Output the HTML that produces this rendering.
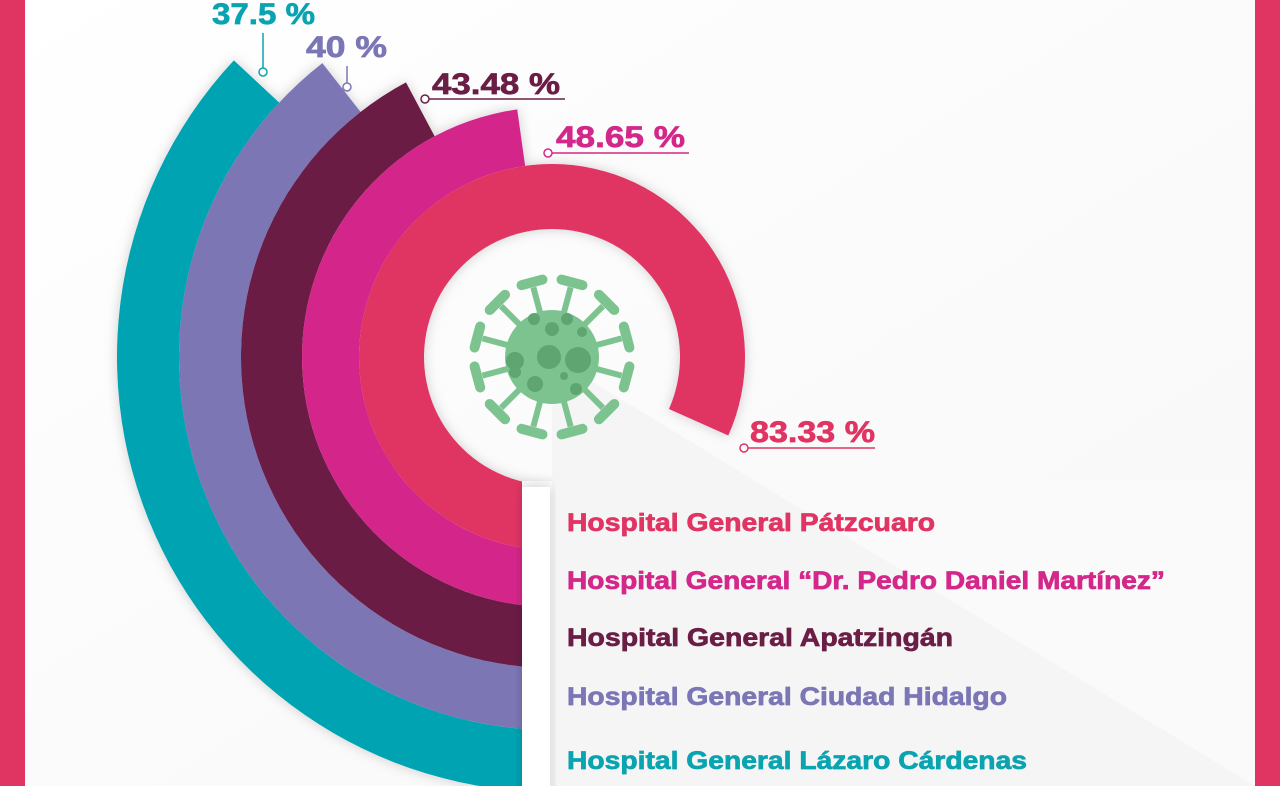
<!DOCTYPE html>
<html><head><meta charset="utf-8"><style>
html,body{margin:0;padding:0;background:#fff}
svg{display:block}
text{font-family:"Liberation Sans",sans-serif;font-weight:bold;stroke-width:0.7px}
</style></head><body>
<svg id="s" width="1280" height="786" viewBox="0 0 1280 786" xmlns="http://www.w3.org/2000/svg">
<defs>
<linearGradient id="bg" x1="0" y1="0" x2="1" y2="1">
<stop offset="0" stop-color="#ffffff"/><stop offset="1" stop-color="#f7f7f8"/></linearGradient>
<filter id="sh" x="-20%" y="-20%" width="140%" height="140%"><feDropShadow dx="0" dy="0" stdDeviation="6" flood-color="#000" flood-opacity="0.18"/></filter>
</defs>
<rect width="1280" height="786" fill="url(#bg)"/>
<g id="rings" filter="url(#sh)"></g>
<rect x="522" y="481" width="733" height="305" fill="#fafafa"/>
<polygon points="552,357 1255,786 552,786" fill="#f5f5f6"/>
<g id="tabs" filter="url(#sh)"></g>
<g id="virus"></g>
<rect x="0" y="0" width="25" height="786" fill="#e03463"/>
<rect x="1255" y="0" width="25" height="786" fill="#e03463"/>
<g font-size="30">
<text x="212" y="24" fill="#0aa3b0" stroke="#0aa3b0" textLength="103" lengthAdjust="spacingAndGlyphs">37.5 %</text>
<text x="306" y="57" fill="#7b76b5" stroke="#7b76b5" textLength="81" lengthAdjust="spacingAndGlyphs">40 %</text>
<text x="432" y="94" fill="#6b1e45" stroke="#6b1e45" textLength="128" lengthAdjust="spacingAndGlyphs">43.48 %</text>
<text x="556" y="147" fill="#d4278a" stroke="#d4278a" textLength="129" lengthAdjust="spacingAndGlyphs">48.65 %</text>
<text x="750" y="442" fill="#e03463" stroke="#e03463" textLength="125" lengthAdjust="spacingAndGlyphs">83.33 %</text>
</g>
<g fill="none" stroke-width="1.5">
<line x1="263" y1="33" x2="263" y2="68" stroke="#0aa3b0"/><circle cx="263" cy="72" r="4" stroke="#0aa3b0" fill="#fff"/>
<line x1="347" y1="66" x2="347" y2="83" stroke="#7b76b5"/><circle cx="347" cy="87" r="4" stroke="#7b76b5" fill="#fff"/>
<line x1="429" y1="99" x2="565" y2="99" stroke="#6b1e45"/><circle cx="425" cy="99" r="4" stroke="#6b1e45" fill="#fff"/>
<line x1="552" y1="153" x2="689" y2="153" stroke="#d4278a"/><circle cx="548" cy="153" r="4" stroke="#d4278a" fill="#fff"/>
<line x1="748" y1="448" x2="875" y2="448" stroke="#e03463"/><circle cx="744" cy="448" r="4" stroke="#e03463" fill="#fff"/>
</g>
<g font-size="25">
<text x="567" y="531" fill="#e03463" stroke="#e03463" stroke-width="0.4" textLength="368" lengthAdjust="spacingAndGlyphs">Hospital General Pátzcuaro</text>
<text x="567" y="589" fill="#d4278a" stroke="#d4278a" stroke-width="0.4" textLength="598" lengthAdjust="spacingAndGlyphs">Hospital General “Dr. Pedro Daniel Martínez”</text>
<text x="567" y="646" fill="#6b1e45" stroke="#6b1e45" stroke-width="0.4" textLength="386" lengthAdjust="spacingAndGlyphs">Hospital General Apatzingán</text>
<text x="567" y="705" fill="#7b76b5" stroke="#7b76b5" stroke-width="0.4" textLength="440" lengthAdjust="spacingAndGlyphs">Hospital General Ciudad Hidalgo</text>
<text x="567" y="769" fill="#0aa3b0" stroke="#0aa3b0" stroke-width="0.4" textLength="460" lengthAdjust="spacingAndGlyphs">Hospital General Lázaro Cárdenas</text>
</g>
</svg>
<script>
var NS="http://www.w3.org/2000/svg",cx=552,cy=357;
function P(r,t){t=t*Math.PI/180;return [cx+r*Math.sin(t),cy-r*Math.cos(t)];}
function arc(r0,r1,a0,a1,col,g){
 var p1=P(r1,a0),p2=P(r1,a1),p3=P(r0,a1),p4=P(r0,a0),lg=(a1-a0)>180?1:0;
 var d="M"+p1+" A"+r1+","+r1+" 0 "+lg+" 1 "+p2+" L"+p3+" A"+r0+","+r0+" 0 "+lg+" 0 "+p4+"Z";
 var e=document.createElementNS(NS,"path");e.setAttribute("d",d);e.setAttribute("fill",col);g.appendChild(e);}
var g=document.getElementById("rings");
var R=[[373,435,313,"#05a3b2"],[311,373,322,"#7b76b5"],[250,311,332,"#6b1e45"],[193,250,352,"#d4278a"],[128,193,474,"#e03463"]];
R.forEach(function(a){arc(a[0],a[1],170,a[2],a[3],g);});
var t=document.getElementById("tabs");
var tops=[487,548,606,668,730],bots=[548,606,668,730,800];
for(var i=0;i<5;i++){var r=document.createElementNS(NS,"rect");
 r.setAttribute("x",522);r.setAttribute("y",tops[i]);r.setAttribute("width",28);r.setAttribute("height",bots[i]-tops[i]);r.setAttribute("fill","#fff");t.appendChild(r);}
var v=document.getElementById("virus"),h='';
for(var k=0;k<12;k++){var a=k*30+15,q=P(72,a),q0=P(40,a),q1=P(78,a-8),q2=P(78,a+8);
 h+='<line x1="'+q0[0]+'" y1="'+q0[1]+'" x2="'+q[0]+'" y2="'+q[1]+'" stroke="#7cc390" stroke-width="6"/>';
 h+='<line x1="'+q1[0]+'" y1="'+q1[1]+'" x2="'+q2[0]+'" y2="'+q2[1]+'" stroke="#7cc390" stroke-width="10" stroke-linecap="round"/>';}
h+='<circle cx="552" cy="357" r="47" fill="#7cc390"/>';
[[-37,4,9],[-18,-38,6],[0,-28,7],[-3,0,12],[26,3,13],[30,-25,5],[-37,15,6],[-17,27,8],[12,19,4],[24,32,6],[15,-38,6]].forEach(function(c){h+='<circle cx="'+(552+c[0])+'" cy="'+(357+c[1])+'" r="'+c[2]+'" fill="#5fa572"/>';});
v.innerHTML=h;
</script>
</body></html>
